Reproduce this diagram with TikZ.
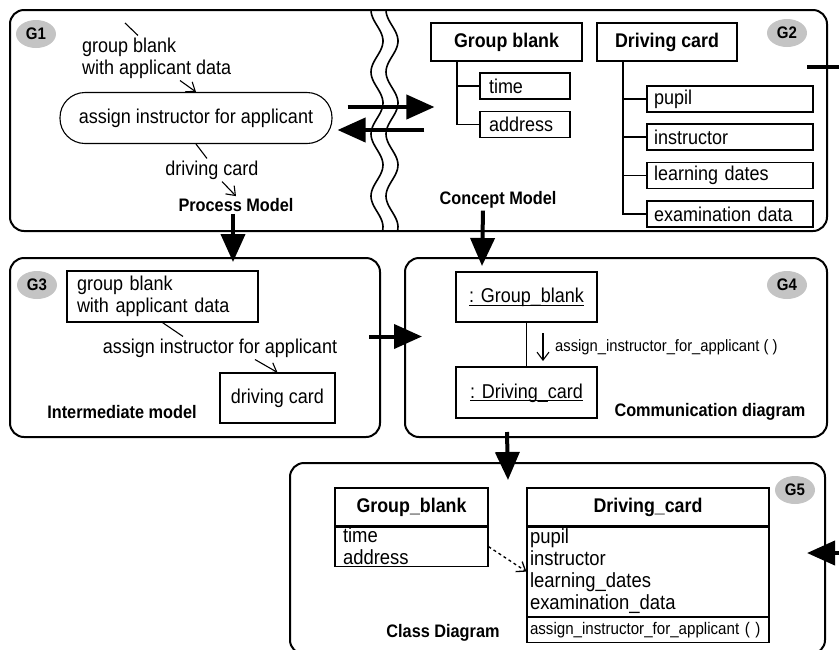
\documentclass[tikz,border=0pt]{standalone}
\usepackage{fontspec}
\setmainfont{Liberation Sans}[FakeStretch=0.9]
\usepackage{tikz}
\usetikzlibrary{arrows.meta}
\usetikzlibrary{positioning,shapes.geometric}

\newcommand{\objname}[1]{\underline{\raisebox{0pt}[\height][1pt]{#1}}}

\begin{document}
\begin{tikzpicture}[x=1pt, y=-1pt,
  frame/.style={rectangle, draw, line width=2pt, rounded corners=14pt},
  badge/.style={ellipse, fill=black!23, minimum width=40pt, minimum height=28pt, inner sep=0pt, font=\fontsize{16.7}{16.7}\selectfont\bfseries},
  txt/.style={inner sep=2pt, font=\fontsize{20}{22}\selectfont},
  small/.style={inner sep=2pt, font=\fontsize{16.4}{17}\selectfont},
  modelname/.style={inner sep=2pt, font=\fontsize{18.1}{19}\selectfont\bfseries},
  boxtitle/.style={rectangle, draw, line width=1.1pt, minimum height=38pt, font=\fontsize{19.8}{21}\selectfont\bfseries},
  leaf/.style={rectangle, draw, line width=1.1pt, align=left, inner ysep=0pt, font=\fontsize{20}{22}\selectfont},
  classbody/.style={rectangle, draw, line width=1.1pt, align=left, inner ysep=1pt, font=\fontsize{20.5}{22}\selectfont},
  tree/.style={line width=1.1pt},
  bigarrow/.style={line width=4pt, -{Triangle[length=28pt, width=24pt]}},
  stick/.style={line width=1.1pt, -{Straight Barb[length=8pt, width=12pt]}},
  wave/.style={line width=1.6pt}]
\useasboundingbox (0, 0) rectangle (839, 649);
\clip (0, 0) rectangle (839, 649);
\fill [white] (0, 0) rectangle (839, 649);

\node (top) at (418.5, 120.5) [frame, minimum width=817pt, minimum height=221pt] {};
\node (g3) at (195, 347.5) [frame, minimum width=370pt, minimum height=179pt] {};
\node (g4) at (616, 347.5) [frame, minimum width=422pt, minimum height=179pt] {};
\node (g5) at (557.5, 558.5) [frame, minimum width=535pt, minimum height=191pt] {};

\draw [wave] plot [domain=10:231, samples=90, smooth] ({377 - 6*cos(5.806*(\x-10))}, \x);
\draw [wave] plot [domain=10:231, samples=90, smooth] ({392 - 6*cos(5.806*(\x-10))}, \x);

\node (b1) at (36, 34) [badge] {G1};
\node (b2) at (787, 33) [badge] {G2};
\node (b3) at (37, 285) [badge] {G3};
\node (b4) at (787, 285) [badge] {G4};
\node (b5) at (795, 490) [badge] {G5};

\node (gbt) at (80, 58) [txt, anchor=west, align=left] {group blank\\with applicant data};
\node (act) at (196, 118) [rectangle, draw, line width=1.1pt, rounded corners=25pt, minimum width=272pt, minimum height=51pt, font=\fontsize{20}{22}\selectfont] {assign instructor for applicant};
\node (dc1) at (212, 170) [txt] {driving card};
\node (pm) at (236, 205) [modelname] {Process Model};
\coordinate (in1) at (125, 23);

\draw [tree] (in1) -- ([xshift=58pt]gbt.north west);
\draw [stick] ([xshift=100pt]gbt.south west) -- (act.north);
\draw [tree] (act.south) -- ([xshift=-5pt]dc1.north);
\draw [stick] ([xshift=10pt]dc1.south) -- (pm.north);

\node (gbx) at (506.5, 42) [boxtitle, minimum width=151pt] {Group blank};
\node (tm) at (525, 86) [leaf, text width=72pt, inner xsep=9pt, minimum height=26pt] {time};
\node (ad) at (525, 124.5) [leaf, text width=72pt, inner xsep=9pt, minimum height=26pt] {address};
\node (dcx) at (667, 42) [boxtitle, minimum width=140pt] {Driving card};
\node (pu) at (730, 99) [leaf, text width=152pt, inner xsep=7pt, minimum height=26pt] {pupil};
\node (ins) at (730, 137) [leaf, text width=152pt, inner xsep=7pt, minimum height=26pt] {instructor};
\node (ld) at (730, 175.5) [leaf, text width=152pt, inner xsep=7pt, minimum height=26pt] {learning dates};
\node (ed) at (730, 214) [leaf, text width=152pt, inner xsep=7pt, minimum height=26pt] {examination data};
\node (cm) at (498, 200) [modelname] {Concept Model};

\draw [tree] ([xshift=-49.5pt]gbx.south) |- (tm.west);
\draw [tree] ([xshift=-49.5pt]gbx.south) |- (ad.west);
\draw [tree] ([xshift=-44pt]dcx.south) |- (pu.west);
\draw [tree] ([xshift=-44pt]dcx.south) |- (ins.west);
\draw [tree] ([xshift=-44pt]dcx.south) |- (ld.west);
\draw [tree] ([xshift=-44pt]dcx.south) |- (ed.west);

\draw [bigarrow] ([shift={(15,-11)}]act.east) -- ([shift={(4,65)}]gbx.west);
\draw [bigarrow] ([shift={(-6,88)}]gbx.west) -- ([shift={(5,12)}]act.east);

\node (gb3) at (162.5, 296.5) [leaf, text width=171pt, inner xsep=10pt, minimum height=51pt] {group blank\\with applicant data};
\node (asg) at (220, 348) [txt] {assign instructor for applicant};
\node (dc3) at (277.5, 398) [rectangle, draw, line width=1.1pt, minimum width=115pt, minimum height=50pt, font=\fontsize{20}{22}\selectfont] {driving card};
\node (im) at (122, 412) [modelname] {Intermediate model};

\draw [tree] (gb3.south) -- ([xshift=-37pt]asg.north);
\draw [stick] ([xshift=35pt]asg.south) -- (dc3.north);

\node (gbo) at (526.5, 297) [rectangle, draw, line width=1.1pt, minimum width=141pt, minimum height=50pt, font=\fontsize{20}{22}\selectfont] {\objname{: Group\_blank}};
\node (dco) at (526.5, 392.5) [rectangle, draw, line width=1.1pt, minimum width=141pt, minimum height=51pt, font=\fontsize{20}{22}\selectfont] {\objname{: Driving\_card}};
\node (msg) at (553, 347) [small, anchor=west] {assign\_instructor\_for\_applicant ( )};
\node (cd) at (710, 412) [modelname] {Communication diagram};
\coordinate (m1) at (543, 333);
\coordinate (m2) at (543, 361);

\draw [tree] (gbo.south) -- (dco.north);
\draw [stick] (m1) -- (m2);

\node (gbc) at (411.5, 507) [boxtitle, minimum width=153pt] {Group\_blank};
\node (gba) [below=0pt of gbc, classbody, text width=137pt, inner xsep=8pt, minimum height=38pt] {time\\address};
\node (dcc) at (648, 507) [boxtitle, minimum width=242pt] {Driving\_card};
\node (dca) [below=0pt of dcc, classbody, text width=236pt, inner xsep=3pt, minimum height=89pt] {pupil\\instructor\\learning\_dates\\examination\_data};
\node (dcm) [below=0pt of dca, classbody, text width=236pt, inner xsep=3pt, minimum height=25pt, font=\fontsize{16.8}{17}\selectfont] {assign\_instructor\_for\_applicant ( )};
\node (cld) at (443, 633) [modelname] {Class Diagram};

\draw [stick, dashed, line width=1.3pt] (gba.east) -- (dca.west);

\draw [bigarrow] ([xshift=-3pt]pm.south) -- ([shift={(38,5)}]g3.north);
\draw [bigarrow] ([xshift=-15pt]cm.south) -- ([shift={(-134,9)}]g4.north);
\draw [bigarrow] ([shift={(-12,-11)}]g3.east) -- ([shift={(18,-11)}]g4.west);
\draw [bigarrow] ([shift={(-109,-6)}]g4.south) -- ([shift={(-49.5,18)}]g5.north);

\coordinate (r1) at (807, 67);
\coordinate (r2) at (807, 553);
\draw [bigarrow] (r1) -- ++(73, 0) |- (r2);
\end{tikzpicture}
\end{document}
